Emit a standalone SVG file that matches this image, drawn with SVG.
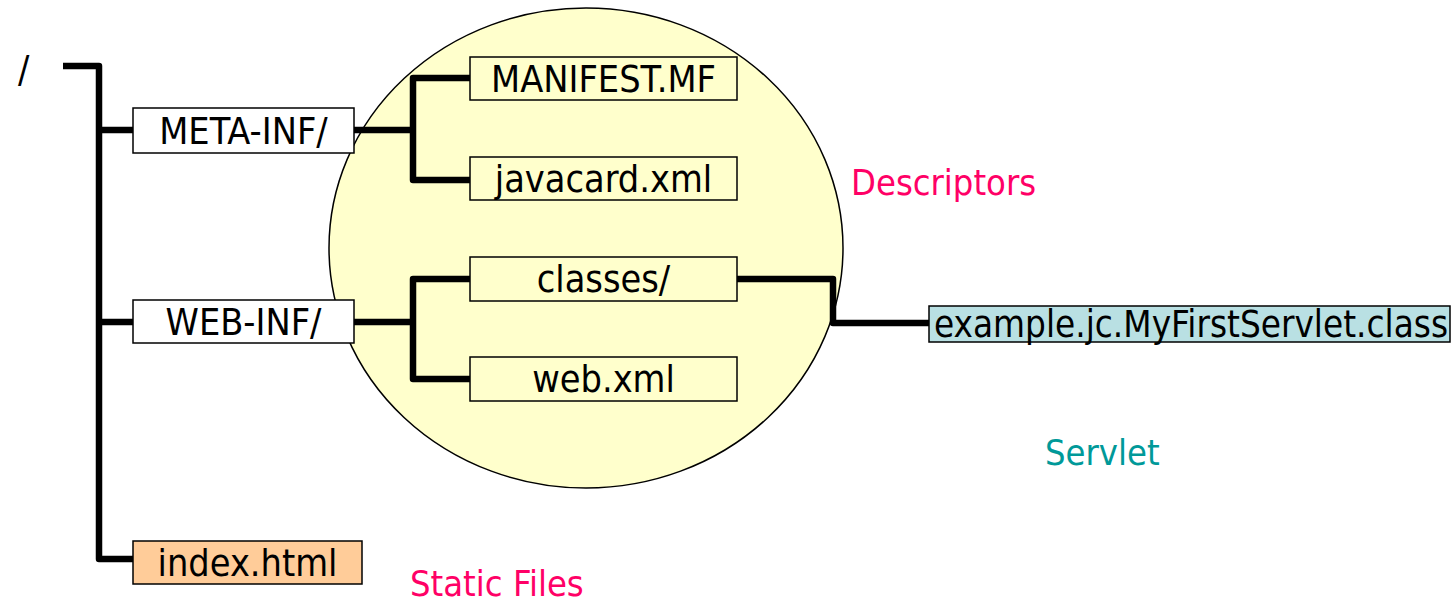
<svg xmlns="http://www.w3.org/2000/svg" width="1455" height="603" viewBox="0 0 1455 603">
<style>
.box{stroke:#000;stroke-width:1.5;}
.t{font-family:"DejaVu Sans Condensed","DejaVu Sans",sans-serif;font-stretch:condensed;font-size:37.5px;fill:#000;text-anchor:middle;}
.lbl{font-family:"DejaVu Sans Condensed","DejaVu Sans",sans-serif;font-stretch:condensed;font-size:36px;}
.conn{fill:none;stroke:#000;stroke-width:6.5;stroke-linejoin:round;}
</style>
<rect width="1455" height="603" fill="#fff"/>
<g id="descriptors-area">
<ellipse cx="586" cy="248" rx="257" ry="240" fill="#FFFFCC" stroke="#000" stroke-width="1.5"/>
</g>
<g id="connectors">
<path class="conn" d="M63,66 H99 V559 H133"/>
<path class="conn" d="M99,130 H133"/>
<path class="conn" d="M99,322 H133"/>
<path class="conn" d="M354,130 H413"/>
<path class="conn" d="M470,78 H413 V180 H470"/>
<path class="conn" d="M354,322 H413"/>
<path class="conn" d="M470,279 H413 V379 H470"/>
<path class="conn" d="M737,279 H833 V323 H929"/>
</g>
<g id="root"><text class="t" x="18" y="82" style="text-anchor:start">/</text></g>
<g id="meta-inf"><rect class="box" x="133" y="108" width="221" height="45" fill="#fff"/><text class="t" x="243.5" y="144">META-INF/</text></g>
<g id="web-inf"><rect class="box" x="133" y="300" width="221" height="43" fill="#fff"/><text class="t" x="243.5" y="335">WEB-INF/</text></g>
<g id="index-html"><rect class="box" x="133" y="541" width="229" height="43" fill="#FFCC99"/><text class="t" x="247.5" y="576">index.html</text></g>
<g id="manifest"><rect class="box" x="470" y="57" width="267" height="43" fill="#FFFFCC"/><text class="t" x="603.5" y="92">MANIFEST.MF</text></g>
<g id="javacard"><rect class="box" x="470" y="157" width="267" height="43" fill="#FFFFCC"/><text class="t" x="603.5" y="192">javacard.xml</text></g>
<g id="classes"><rect class="box" x="470" y="257" width="267" height="44" fill="#FFFFCC"/><text class="t" x="603.5" y="292">classes/</text></g>
<g id="web-xml"><rect class="box" x="470" y="357" width="267" height="44" fill="#FFFFCC"/><text class="t" x="603.5" y="392">web.xml</text></g>
<g id="servlet-class"><rect class="box" x="929" y="306" width="521" height="36" fill="#B9E0E3"/><text class="t" x="1191" y="337" style="font-size:36.5px">example.jc.MyFirstServlet.class</text></g>
<g id="labels">
<text class="lbl" x="851" y="195" fill="#FF0066">Descriptors</text>
<text class="lbl" x="1045" y="465" fill="#009999">Servlet</text>
<text class="lbl" x="410" y="596" fill="#FF0066">Static Files</text>
</g>
</svg>
